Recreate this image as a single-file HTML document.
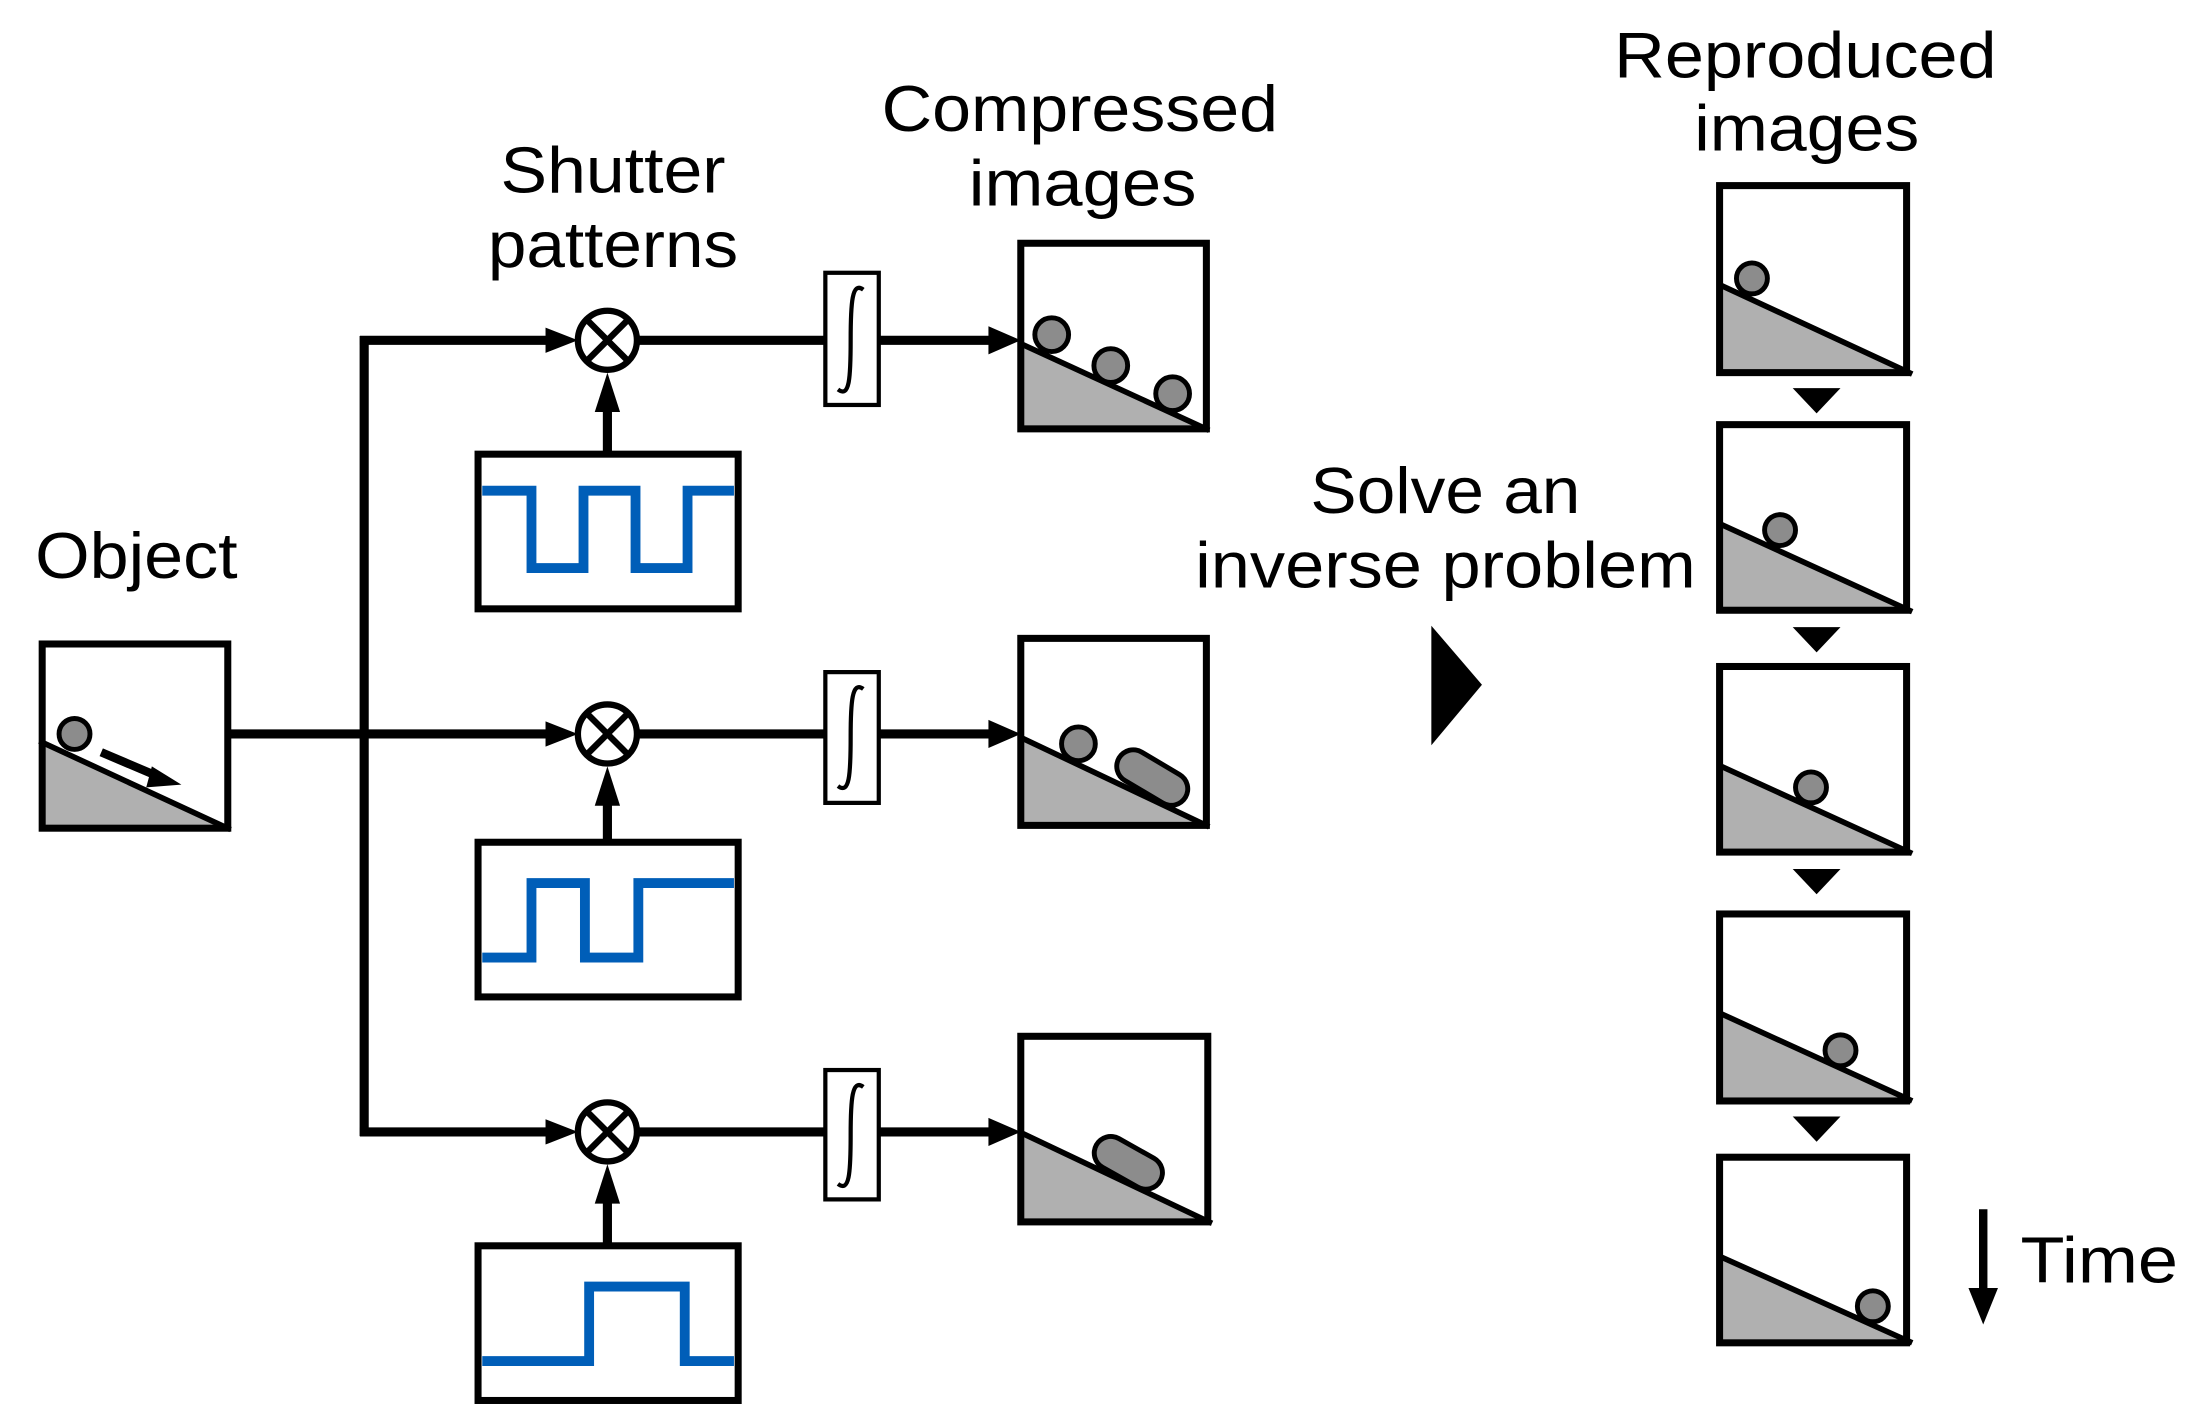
<!DOCTYPE html>
<html><head><meta charset="utf-8"><style>
html,body{margin:0;padding:0;background:#fff;}
svg{display:block;}
text{font-family:"Liberation Sans",Arial,sans-serif;fill:#000;}
</style></head><body>
<svg width="2193" height="1421" viewBox="0 0 1559.7 1010.6" preserveAspectRatio="none" xmlns="http://www.w3.org/2000/svg">

<!-- labels -->
<text x="97" y="411" font-size="46" text-anchor="middle" textLength="144" lengthAdjust="spacingAndGlyphs">Object</text>
<text x="436" y="137" font-size="46" text-anchor="middle" textLength="160" lengthAdjust="spacingAndGlyphs">Shutter</text>
<text x="436" y="190" font-size="46" text-anchor="middle" textLength="178" lengthAdjust="spacingAndGlyphs">patterns</text>
<text x="768" y="93" font-size="46" text-anchor="middle" textLength="282" lengthAdjust="spacingAndGlyphs">Compressed</text>
<text x="770" y="146" font-size="46" text-anchor="middle" textLength="162" lengthAdjust="spacingAndGlyphs">images</text>
<text x="1028" y="365" font-size="46" text-anchor="middle" textLength="192" lengthAdjust="spacingAndGlyphs">Solve an</text>
<text x="1028" y="418" font-size="46" text-anchor="middle" textLength="356" lengthAdjust="spacingAndGlyphs">inverse problem</text>
<text x="1284" y="55" font-size="46" text-anchor="middle" textLength="272" lengthAdjust="spacingAndGlyphs">Reproduced</text>
<text x="1285" y="107" font-size="46" text-anchor="middle" textLength="160" lengthAdjust="spacingAndGlyphs">images</text>
<text x="1437" y="912" font-size="46" textLength="112" lengthAdjust="spacingAndGlyphs">Time</text>

<!-- object box -->
<g stroke="#000">
<polygon points="30,528 162,590 30,590" fill="#b0b0b0" stroke="none"/>
<line x1="28" y1="527" x2="164" y2="590" stroke-width="4"/>
<rect x="30" y="458" width="132" height="131" fill="none" stroke-width="5"/>
<circle cx="53" cy="522" r="11" fill="#8c8c8c" stroke-width="3.5"/>
<line x1="72" y1="535" x2="112" y2="552" stroke-width="6"/>
<polygon points="108,545 129,558 104,560" fill="#000" stroke="none"/>
</g>

<!-- bus lines -->
<g stroke="#000" stroke-width="6.5" fill="none">
<line x1="162" y1="522" x2="259" y2="522"/>
<line x1="259" y1="239" x2="259" y2="808"/>
<polyline points="256,242 392,242"/>
<polyline points="259,522 392,522"/>
<polyline points="256,805 392,805"/>
</g>
<g fill="#000">
<polygon points="388,233 411,242 388,251"/>
<polygon points="388,513 411,522 388,531"/>
<polygon points="388,796 411,805 388,814"/>
</g>

<g stroke="#000" fill="none">
<g stroke-width="4.5">
<circle cx="432" cy="242" r="21" fill="#fff"/>
<line x1="418" y1="228" x2="446" y2="256"/><line x1="446" y1="228" x2="418" y2="256"/>
<circle cx="432" cy="522" r="21" fill="#fff"/>
<line x1="418" y1="508" x2="446" y2="536"/><line x1="446" y1="508" x2="418" y2="536"/>
<circle cx="432" cy="805" r="21" fill="#fff"/>
<line x1="418" y1="791" x2="446" y2="819"/><line x1="446" y1="791" x2="418" y2="819"/>
</g>
<g stroke-width="6.5">
<line x1="432" y1="322" x2="432" y2="288"/>
<line x1="432" y1="598" x2="432" y2="568"/>
<line x1="432" y1="885" x2="432" y2="851"/>
<line x1="453" y1="242" x2="586" y2="242"/>
<line x1="453" y1="522" x2="586" y2="522"/>
<line x1="453" y1="805" x2="586" y2="805"/>
<line x1="626" y1="242" x2="708" y2="242"/>
<line x1="626" y1="522" x2="708" y2="522"/>
<line x1="626" y1="805" x2="708" y2="805"/>
</g>
<rect x="340" y="323" width="185" height="110" stroke-width="5"/>
<rect x="340" y="599" width="185" height="110" stroke-width="5"/>
<rect x="340" y="886" width="185" height="110" stroke-width="5"/>
</g>
<g fill="#000" stroke="none">
<polygon points="423,293 432,265 441,293"/>
<polygon points="423,573 432,545 441,573"/>
<polygon points="423,856 432,828 441,856"/>
<polygon points="703,232 726,242 703,252"/>
<polygon points="703,512 726,522 703,532"/>
<polygon points="703,795 726,805 703,815"/>
</g>
<!-- square waves -->
<g stroke="#005eb8" stroke-width="7" fill="none">
<polyline points="343,349 378,349 378,404 415,404 415,349 452,349 452,404 489,404 489,349 522,349"/>
<polyline points="343,681 378,681 378,628 416,628 416,681 454,681 454,628 522,628"/>
<polyline points="343,968 419,968 419,915 487,915 487,968 522,968"/>
</g>
<!-- integrators -->
<g stroke="#000" fill="none" stroke-width="3">
<rect x="587" y="194" width="38" height="94" fill="#fff"/>
<rect x="587" y="478" width="38" height="93" fill="#fff"/>
<rect x="587" y="761" width="38" height="92" fill="#fff"/>
<path d="M614,206 C606,200 605,215 605,242 C605,270 604,283 596,277"/>
<path d="M614,490 C606,484 605,499 605,524 C605,552 604,565 596,559"/>
<path d="M614,773 C606,767 605,782 605,807 C605,835 604,848 596,842"/>
</g>

<!-- compressed images -->
<g stroke="#000">
<polygon points="727,245 856,306 727,306" fill="#b0b0b0" stroke="none"/>
<line x1="725" y1="244" x2="860" y2="306" stroke-width="4"/>
<rect x="726" y="173" width="132" height="132" fill="none" stroke-width="5"/>
<circle cx="748" cy="238" r="12" fill="#8c8c8c" stroke-width="3.5"/>
<circle cx="790" cy="260" r="12" fill="#8c8c8c" stroke-width="3.5"/>
<circle cx="834" cy="280" r="12" fill="#8c8c8c" stroke-width="3.5"/>

<polygon points="727,525 856,588 727,588" fill="#b0b0b0" stroke="none"/>
<line x1="725" y1="524" x2="860" y2="588" stroke-width="4"/>
<rect x="726" y="454" width="132" height="133" fill="none" stroke-width="5"/>
<circle cx="767" cy="529" r="12" fill="#8c8c8c" stroke-width="3.5"/>
<line x1="806" y1="545" x2="833" y2="561" stroke="#000" stroke-width="27" stroke-linecap="round"/>
<line x1="806" y1="545" x2="833" y2="561" stroke="#8c8c8c" stroke-width="20" stroke-linecap="round"/>

<polygon points="727,806 858,870 727,870" fill="#b0b0b0" stroke="none"/>
<line x1="725" y1="805" x2="862" y2="870" stroke-width="4"/>
<rect x="726" y="737" width="133" height="132" fill="none" stroke-width="5"/>
<line x1="790" y1="820" x2="815" y2="834" stroke="#000" stroke-width="27" stroke-linecap="round"/>
<line x1="790" y1="820" x2="815" y2="834" stroke="#8c8c8c" stroke-width="20" stroke-linecap="round"/>
</g>

<!-- big triangle -->
<polygon points="1018,445 1054,487 1018,530" fill="#000"/>

<!-- reproduced images -->
<g stroke="#000">
<polygon points="1224,203 1356,266 1224,266" fill="#b0b0b0" stroke="none"/>
<line x1="1222" y1="202" x2="1360" y2="266" stroke-width="4"/>
<rect x="1223" y="132" width="133" height="133" fill="none" stroke-width="5"/>
<circle cx="1246" cy="198" r="11" fill="#8c8c8c" stroke-width="3.5"/>

<polygon points="1224,373 1356,435 1224,435" fill="#b0b0b0" stroke="none"/>
<line x1="1222" y1="372" x2="1360" y2="435" stroke-width="4"/>
<rect x="1223" y="302" width="133" height="132" fill="none" stroke-width="5"/>
<circle cx="1266" cy="377" r="11" fill="#8c8c8c" stroke-width="3.5"/>

<polygon points="1224,545 1356,607 1224,607" fill="#b0b0b0" stroke="none"/>
<line x1="1222" y1="544" x2="1360" y2="607" stroke-width="4"/>
<rect x="1223" y="474" width="133" height="132" fill="none" stroke-width="5"/>
<circle cx="1288" cy="560" r="11" fill="#8c8c8c" stroke-width="3.5"/>

<polygon points="1224,721 1356,783 1224,783" fill="#b0b0b0" stroke="none"/>
<line x1="1222" y1="720" x2="1360" y2="783" stroke-width="4"/>
<rect x="1223" y="650" width="133" height="133" fill="none" stroke-width="5"/>
<circle cx="1309" cy="747" r="11" fill="#8c8c8c" stroke-width="3.5"/>

<polygon points="1224,894 1356,955 1224,955" fill="#b0b0b0" stroke="none"/>
<line x1="1222" y1="893" x2="1360" y2="955" stroke-width="4"/>
<rect x="1223" y="823" width="133" height="132" fill="none" stroke-width="5"/>
<circle cx="1332" cy="929" r="11" fill="#8c8c8c" stroke-width="3.5"/>
</g>
<g fill="#000">
<polygon points="1275,276 1309,276 1292,294"/>
<polygon points="1275,446 1309,446 1292,464"/>
<polygon points="1275,618 1309,618 1292,636"/>
<polygon points="1275,794 1309,794 1292,812"/>
<rect x="1407.5" y="860" width="6" height="62"/>
<polygon points="1400,916 1421,916 1410.5,942"/>
</g>
</svg>
</body></html>
